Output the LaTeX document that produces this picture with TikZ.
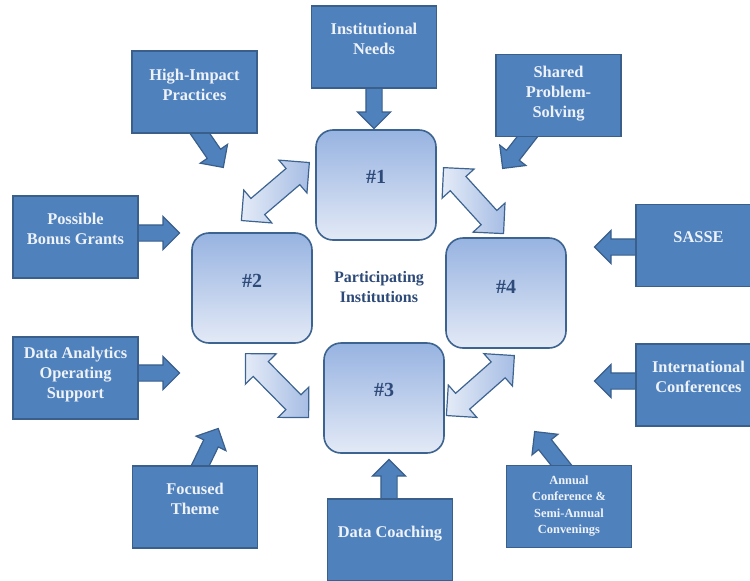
\documentclass[tikz,border=0pt]{standalone}
\usepackage{fontspec}
\setmainfont{Liberation Serif}
\usepackage{tikz}
\usetikzlibrary{shapes.arrows,calc,backgrounds}
\definecolor{boxblue}{HTML}{4F81BD}
\definecolor{boxline}{HTML}{3A5F8B}
\definecolor{boxtext}{HTML}{EEF2F9}
\definecolor{instline}{HTML}{3D6491}
\definecolor{insttop}{HTML}{97B3E1}
\definecolor{instbot}{HTML}{E3EAF6}
\definecolor{numblue}{HTML}{2E4A78}
\definecolor{arrlight}{HTML}{E4EBF7}
\definecolor{arrdark}{HTML}{A6BDE4}

% block arrow from #3 to #4, drawn as a rotated arrow node
\newcommand{\shapearrow}[4][blockarrow]{%
\path let \p1=(#3), \p2=(#4), \n1={atan2(\y2-\y1,\x2-\x1)}, \n2={veclen(\x2-\x1,\y2-\y1)} in
  node[#1, rotate=\n1, minimum height=\n2] (#2) at (\p1) {};}

\begin{document}
\begin{tikzpicture}[x=1pt, y=-1pt,
  outerbox/.style={draw=boxline, fill=boxblue, line width=1.3pt, minimum width=125pt, minimum height=82pt, inner sep=0pt},
  outertext/.style={align=center, text=boxtext, inner sep=0pt, font=\bfseries\fontsize{16.4}{20}\selectfont},
  inst/.style={draw=instline, line width=1.6pt, rounded corners=17pt, top color=insttop, bottom color=instbot, minimum width=120pt, minimum height=110pt, inner sep=0pt},
  numtext/.style={text=numblue, inner sep=0pt, font=\bfseries\fontsize{20}{24}\selectfont},
  blockarrow/.style={single arrow, anchor=tail, draw=boxline, fill=boxblue, line width=1.2pt, minimum width=0pt, inner xsep=0pt, inner ysep=7.5pt, single arrow head extend=8.5pt, single arrow tip angle=90},
  dblarrow/.style={double arrow, anchor=tip 2, draw=instline, line width=1.2pt, minimum width=0pt, inner xsep=0pt, inner ysep=10pt, double arrow head extend=11pt, double arrow tip angle=90, left color=arrlight, right color=arrdark}]
\useasboundingbox (0,0) rectangle (750,581);

\node[inst] (p1) at (376,185) {};
\node[inst] (p2) at (252,288) {};
\node[inst] (p3) at (384,398) {};
\node[inst] (p4) at (506,293) {};
\node[numtext] (n1) at ([yshift=8.5pt]p1.center) {\#1};
\node[numtext] (n2) at ([yshift=7pt]p2.center) {\#2};
\node[numtext] (n3) at ([yshift=8.5pt]p3.center) {\#3};
\node[numtext] (n4) at ([yshift=6pt]p4.center) {\#4};
\node[numtext, align=center, font=\bfseries\fontsize{16}{20}\selectfont] (part) at (379,287.5) {Participating\\Institutions};

\node[outerbox] (needs) at (374,47) {};
\node[outerbox] (impact) at (194.5,92) {};
\node[outerbox] (shared) at (558.5,95.5) {};
\node[outerbox] (bonus) at (75.5,237) {};
\node[outerbox] (sasse) at (698.5,245.5) {};
\node[outerbox] (analytics) at (75.5,378) {};
\node[outerbox] (intl) at (698.5,385) {};
\node[outerbox] (theme) at (195,507) {};
\node[outerbox] (coaching) at (390,540) {};
\node[outerbox] (annual) at (569,506.5) {};

\node[outertext] (needs-t) at ([yshift=8pt]needs.center) {Institutional\\Needs};
\node[outertext] (impact-t) at ([yshift=7pt]impact.center) {High-Impact\\Practices};
\node[outertext] (shared-t) at ([yshift=2pt]shared.center) {Shared\\Problem-\\Solving};
\node[outertext] (bonus-t) at ([yshift=8pt]bonus.center) {Possible\\Bonus Grants};
\node[outertext] (sasse-t) at ([yshift=8.5pt]sasse.center) {SASSE};
\node[outertext] (analytics-t) at ([yshift=3.5pt]analytics.center) {Data Analytics\\Operating\\Support};
\node[outertext] (intl-t) at ([yshift=8pt]intl.center) {International\\Conferences};
\node[outertext] (theme-t) at ([yshift=8pt]theme.center) {Focused\\Theme};
\node[outertext] (coaching-t) at ([yshift=6.5pt]coaching.center) {Data Coaching};
\node[outertext, font=\bfseries\fontsize{12.4}{16.5}\selectfont] (annual-t) at ([yshift=0.5pt]annual.center) {Annual\\Conference \&\\Semi-Annual\\Convenings};

\coordinate (needs-e) at (374,128);
\coordinate (impact-e) at (223,167);
\coordinate (shared-e) at (503,168);
\coordinate (bonus-e) at (179,233);
\coordinate (analytics-e) at (179,373);
\coordinate (sasse-e) at (595,247);
\coordinate (intl-e) at (595,381);
\coordinate (theme-e) at (218,429);
\coordinate (coaching-e) at (389,460);
\coordinate (annual-e) at (535,432);

\coordinate (d12a) at (310,162);
\coordinate (d12b) at (242,220);
\coordinate (d14a) at (443,167);
\coordinate (d14b) at (503,233);
\coordinate (d23a) at (245,353);
\coordinate (d23b) at (308,417);
\coordinate (d34a) at (515,355);
\coordinate (d34b) at (447,415);

\begin{scope}[on background layer]
\shapearrow{a-needs}{[yshift=2pt]needs.south}{needs-e}
\shapearrow{a-impact}{[yshift=8pt]impact.south}{impact-e}
\shapearrow{a-shared}{[xshift=-24.5pt,yshift=9pt]shared.south}{shared-e}
\shapearrow{a-bonus}{[xshift=-2pt,yshift=4pt]bonus.east}{bonus-e}
\shapearrow{a-analytics}{[xshift=-2pt,yshift=5pt]analytics.east}{analytics-e}
\shapearrow{a-sasse}{[xshift=2pt,yshift=-1.5pt]sasse.west}{sasse-e}
\shapearrow{a-intl}{[xshift=2pt,yshift=4pt]intl.west}{intl-e}
\shapearrow{a-theme}{[xshift=1pt,yshift=-9pt]theme.north}{theme-e}
\shapearrow{a-coaching}{[xshift=-1pt,yshift=-2pt]coaching.north}{coaching-e}
\shapearrow{a-annual}{[xshift=-2pt,yshift=-7.5pt]annual.north}{annual-e}
\end{scope}

\shapearrow[dblarrow]{d12}{d12a}{d12b}
\shapearrow[dblarrow]{d14}{d14a}{d14b}
\shapearrow[dblarrow]{d23}{d23a}{d23b}
\shapearrow[dblarrow]{d34}{d34a}{d34b}
\end{tikzpicture}
\end{document}
